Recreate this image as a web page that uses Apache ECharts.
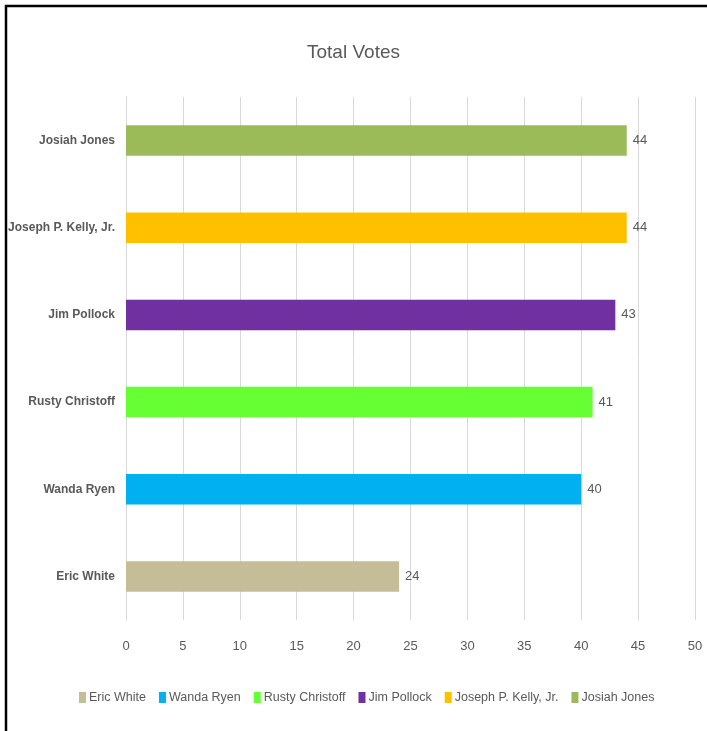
<!DOCTYPE html>
<html>
<head>
<meta charset="utf-8">
<script src="https://cdn.jsdelivr.net/npm/echarts@6/dist/echarts.min.js"></script>
<style>
html,body{margin:0;padding:0;background:#fff;}
#chart{width:707px;height:731px;}
</style>
</head>
<body>
<div id="chart"></div>
<script>
const categories = ['Eric White', 'Wanda Ryen', 'Rusty Christoff', 'Jim Pollock', 'Joseph P. Kelly, Jr.', 'Josiah Jones'];
const votes = [24, 40, 41, 43, 44, 44];
const colors = ['#C4BD97', '#00B0F0', '#66FF33', '#7030A0', '#FFC000', '#9BBB59'];
const xTicks = [0, 5, 10, 15, 20, 25, 30, 35, 40, 45, 50];

const FONT = "'Liberation Sans', Arial, sans-serif";
const chart = echarts.init(document.getElementById('chart'));

const series = categories.map((name, i) => ({
  name: name,
  type: 'bar',
  stack: 'total',
  barWidth: '35%',
  itemStyle: { color: colors[i] },
  label: {
    show: true,
    position: 'right',
    distance: 6,
    color: '#595959',
    fontFamily: FONT,
    fontSize: 13
  },
  data: categories.map((c, j) => j === i ? votes[i] : '-')
}));

chart.setOption({
  animation: false,
  backgroundColor: '#fff',
  title: {
    text: 'Total Votes',
    left: 'center',
    top: 38,
    textStyle: { color: '#595959', fontFamily: FONT, fontSize: 19, fontWeight: 'normal' }
  },
  graphic: [{
    type: 'rect',
    shape: { x: 6, y: 6, width: 900, height: 900 },
    style: { fill: 'none', stroke: '#000', lineWidth: 2.5 },
    silent: true
  }],
  legend: {
    bottom: 22,
    left: 74,
    itemWidth: 7,
    itemHeight: 11,
    itemGap: 13,
    icon: 'rect',
    textStyle: { color: '#595959', fontFamily: FONT, fontSize: 12.5, padding: [0, 0, 0, -2] },
    data: categories
  },
  grid: { left: 126, right: 12, top: 97, bottom: 111, containLabel: false, outerBoundsMode: 'none' },
  xAxis: {
    type: 'value',
    min: xTicks[0],
    max: xTicks[xTicks.length - 1],
    interval: 5,
    axisLine: { show: false },
    axisTick: { show: false },
    axisLabel: { color: '#595959', fontFamily: FONT, fontSize: 13, margin: 20 },
    splitLine: { show: true, lineStyle: { color: '#D9D9D9', width: 1 } }
  },
  yAxis: {
    type: 'category',
    data: categories,
    axisLine: { show: true, lineStyle: { color: '#D9D9D9' } },
    axisTick: { show: false },
    axisLabel: { color: '#595959', fontFamily: FONT, fontSize: 12, fontWeight: 'bold', margin: 11 }
  },
  series: series
});
</script>
</body>
</html>
